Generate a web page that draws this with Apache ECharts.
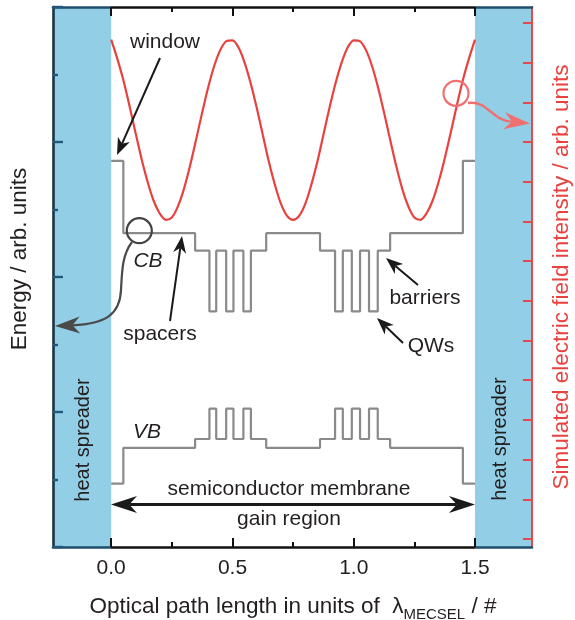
<!DOCTYPE html>
<html>
<head>
<meta charset="utf-8">
<script src="https://cdn.jsdelivr.net/npm/echarts@6/dist/echarts.min.js"></script>
<style>
html,body{margin:0;padding:0;background:#fff;}
#chart{width:575px;height:620px;}
</style>
</head>
<body>
<div id="chart"></div>
<script>
// ---------- data ----------
const xMin = -0.24, xMax = 1.735;
const xMajorTicks = [0, 0.5, 1.0, 1.5];
const xMinorTicks = [0.25, 0.75, 1.25];
const rightTicks = [1, 6, 11, 16, 21, 26, 31, 36, 41, 46, 51, 56, 61, 66];
const heatSpreaders = [[xMin, 0], [1.5, xMax]];

// layer boundaries (optical path length)
const layerEdges = [0, 0.05, 0.346, 0.405, 0.433, 0.474, 0.504, 0.545, 0.576, 0.639,
  0.861, 0.923, 0.955, 0.992, 1.026, 1.063, 1.099, 1.150, 1.45, 1.5];
const layerTypes = ['window', 'spacer', 'barrier', 'qw', 'barrier', 'qw', 'barrier', 'qw', 'barrier',
  'spacer', 'barrier', 'qw', 'barrier', 'qw', 'barrier', 'qw', 'barrier', 'spacer', 'window'];
const cbLevels = { window: 5.72, spacer: 4.65, barrier: 4.39, qw: 3.49 };
const vbLevels = { window: 0.94, spacer: 1.47, barrier: 1.60, qw: 2.05 };

// simulated field intensity (right axis units)
const fieldX = [0, 0.025, 0.05, 0.075, 0.1, 0.125, 0.15, 0.175, 0.2, 0.225, 0.25, 0.275, 0.3, 0.325, 0.35,
  0.375, 0.4, 0.425, 0.45, 0.475, 0.5, 0.525, 0.55, 0.575, 0.6, 0.625, 0.65, 0.675, 0.7, 0.725, 0.75,
  0.775, 0.8, 0.825, 0.85, 0.875, 0.9, 0.925, 0.95, 0.975, 1.0, 1.025, 1.05, 1.075, 1.1, 1.125, 1.15,
  1.175, 1.2, 1.225, 1.25, 1.275, 1.3, 1.325, 1.35, 1.375, 1.4, 1.425, 1.45, 1.475, 1.5];
const fieldY = [63.9, 61.5, 58.8, 55.6, 52.2, 48.9, 46.0, 43.6, 42.0, 41.2, 41.5, 42.9, 45.1, 48.0, 51.3,
  54.7, 57.9, 60.6, 62.6, 63.7, 63.8, 62.9, 61.0, 58.4, 55.3, 51.9, 48.5, 45.6, 43.2, 41.7, 41.2,
  41.7, 43.2, 45.6, 48.5, 51.9, 55.3, 58.4, 61.0, 62.9, 63.8, 63.7, 62.6, 60.6, 57.9, 54.7, 51.3,
  48.0, 45.1, 42.9, 41.5, 41.2, 42.0, 43.6, 46.0, 48.9, 52.2, 55.6, 58.8, 61.5, 63.9];

// ---------- build ----------
function bandLine(levels) {
  const pts = [];
  for (let i = 0; i < layerTypes.length; i++) {
    const v = levels[layerTypes[i]];
    pts.push([layerEdges[i], v]);
    pts.push([layerEdges[i + 1], v]);
  }
  return pts;
}
const fieldData = fieldX.map((x, i) => [x, fieldY[i]]);

const FONT = '"Liberation Sans", Arial, Helvetica, sans-serif';
const TXT = '#231f20';
const BLUE = '#92cfe7';
const RED = '#e8423f';
const TEAL = '#1f4e6b';
const GRID = { left: 53, right: 43, top: 7, bottom: 73 };
const gx0 = GRID.left, gx1 = 575 - GRID.right;

function edgeGrad(dark) {
  const a = (111 - gx0) / (gx1 - gx0), b = (475 - gx0) / (gx1 - gx0);
  return new echarts.graphic.LinearGradient(gx0, 0, gx1, 0, [
    { offset: 0, color: TEAL }, { offset: a, color: TEAL }, { offset: a + 0.0001, color: dark },
    { offset: b, color: dark }, { offset: b + 0.0001, color: TEAL }, { offset: 1, color: TEAL }], true);
}

function xAxisDef(pos, ticks, len, showLine, labels) {
  return {
    type: 'value', min: xMin, max: xMax, position: pos, z: 10,
    axisLine: { show: showLine, onZero: false, lineStyle: { color: edgeGrad('#111'), width: 2.6 } },
    axisTick: { show: true, inside: true, length: len, customValues: ticks, lineStyle: { color: '#111', width: 2 } },
    axisLabel: labels ? { show: true, customValues: ticks, formatter: v => v.toFixed(1), fontSize: 21,
      fontFamily: FONT, color: TXT, margin: 11 } : { show: false },
    splitLine: { show: false }
  };
}

const chart = echarts.init(document.getElementById('chart'), null, { renderer: 'canvas' });

// arrow helpers (annotation graphics, pixel coords)
function arrowHead(tx, ty, fx, fy, len, hw, notch) {
  const dx = tx - fx, dy = ty - fy, d = Math.hypot(dx, dy);
  const ux = dx / d, uy = dy / d, nx = -uy, ny = ux;
  const bx = tx - ux * len, by = ty - uy * len;
  const mx = tx - ux * len * notch, my = ty - uy * len * notch;
  return { pts: [[tx, ty], [bx + nx * hw, by + ny * hw], [mx, my], [bx - nx * hw, by - ny * hw]], mx, my };
}
function straightArrow(x1, y1, x2, y2, color, w, len, hw) {
  const h = arrowHead(x2, y2, x1, y1, len, hw, 0.72);
  return [
    { type: 'line', z: 100, shape: { x1, y1, x2: h.mx, y2: h.my }, style: { stroke: color, lineWidth: w } },
    { type: 'polygon', z: 100, shape: { points: h.pts }, style: { fill: color } }
  ];
}
function txt(s, x, y, size, opts) {
  opts = opts || {};
  return { type: 'text', z: 100, x, y, rotation: opts.rot || 0,
    style: { text: s, font: (opts.italic ? 'italic ' : '') + size + 'px ' + FONT, fill: opts.color || TXT,
      align: 'center', verticalAlign: 'middle', textAlign: 'center', textVerticalAlign: 'middle', rich: opts.rich } };
}
function bez(x1, y1, c1x, c1y, c2x, c2y, x2, y2, color, w) {
  return { type: 'bezierCurve', z: 100,
    shape: { x1, y1, cpx1: c1x, cpy1: c1y, cpx2: c2x, cpy2: c2y, x2, y2 },
    style: { stroke: color, lineWidth: w, fill: null } };
}

const graphics = [];
// labels
graphics.push(txt('window', 165, 42, 21));
graphics.push(txt('CB', 148, 261, 21, { italic: true }));
graphics.push(txt('VB', 147, 432, 21, { italic: true }));
graphics.push(txt('spacers', 160, 334, 21));
graphics.push(txt('barriers', 425, 298, 21));
graphics.push(txt('QWs', 431, 346, 21));
graphics.push(txt('semiconductor membrane', 289, 489, 21));
graphics.push(txt('gain region', 289, 519, 21));
graphics.push(txt('heat spreader', 83, 440, 20, { rot: Math.PI / 2 }));
graphics.push(txt('heat spreader', 500, 439, 20, { rot: Math.PI / 2 }));
graphics.push(txt('Energy / arb. units', 20, 259, 22.5, { rot: Math.PI / 2 }));
graphics.push(txt('Simulated electric field intensity / arb. units', 562, 277, 22.5, { rot: Math.PI / 2, color: RED }));
graphics.push({ type: 'text', z: 100, x: 293, y: 607,
  style: { text: 'Optical path length in units of  {l|λ}{s|MECSEL}{m| / #}', font: '22.5px ' + FONT, fill: TXT,
    align: 'center', verticalAlign: 'middle', textAlign: 'center', textVerticalAlign: 'middle',
    rich: { l: { fontSize: 22.5, fontFamily: FONT, lineHeight: 30, fill: TXT, color: TXT },
            s: { fontSize: 15, fontFamily: FONT, lineHeight: 16, verticalAlign: 'bottom', fill: TXT, color: TXT },
            m: { fontSize: 22.5, fontFamily: FONT, lineHeight: 30, fill: TXT, color: TXT } } } });

// straight arrows
graphics.push(...straightArrow(160, 58, 117, 155, '#1a1a1a', 2, 17, 6.5));
graphics.push(...straightArrow(170, 321, 182, 236, '#1a1a1a', 2, 17, 6.5));
graphics.push(...straightArrow(418, 285, 386, 258, '#1a1a1a', 2, 17, 6.5));
graphics.push(...straightArrow(403, 343, 377, 318, '#1a1a1a', 2, 17, 6.5));
// double arrow (gain region)
{
  const y = 504.5, xa = 111, xb = 475;
  const h1 = arrowHead(xa, y, xb, y, 26, 8.5, 0.7), h2 = arrowHead(xb, y, xa, y, 26, 8.5, 0.7);
  graphics.push({ type: 'line', z: 100, shape: { x1: h1.mx, y1: y, x2: h2.mx, y2: y }, style: { stroke: '#1a1a1a', lineWidth: 3 } });
  graphics.push({ type: 'polygon', z: 100, shape: { points: h1.pts }, style: { fill: '#1a1a1a' } });
  graphics.push({ type: 'polygon', z: 100, shape: { points: h2.pts }, style: { fill: '#1a1a1a' } });
}
// CB circle + curved arrow to left axis
graphics.push({ type: 'circle', z: 100, shape: { cx: 139.3, cy: 230.7, r: 12.5 }, style: { stroke: '#444', lineWidth: 2.2, fill: null } });
{
  const h = arrowHead(55, 326, 82, 325, 25, 8.5, 0.7);
  graphics.push(bez(132, 242, 122, 255, 122, 272, 121, 290, '#4a4a4a', 2.2));
  graphics.push(bez(121, 290, 120, 314, 106, 324, h.mx, h.my, '#4a4a4a', 2.2));
  graphics.push({ type: 'polygon', z: 100, shape: { points: h.pts }, style: { fill: '#4a4a4a' } });
}
// red circle + curved arrow to right axis
graphics.push({ type: 'circle', z: 100, shape: { cx: 456, cy: 93.3, r: 12.5 }, style: { stroke: '#f07070', lineWidth: 2.2, fill: null } });
{
  const h = arrowHead(530, 123.5, 506, 121, 26, 8.5, 0.7);
  graphics.push(bez(468, 103, 488, 100, 492, 121, h.mx, h.my, '#f07070', 2.4));
  graphics.push({ type: 'polygon', z: 100, shape: { points: h.pts }, style: { fill: '#f07070' } });
}

const option = {
  animation: false,
  backgroundColor: '#fff',
  grid: GRID,
  xAxis: [
    xAxisDef('bottom', xMajorTicks, 9, true, true),
    xAxisDef('bottom', xMinorTicks, 5, false, false),
    xAxisDef('top', xMajorTicks, 9, true, false),
    xAxisDef('top', xMinorTicks, 5, false, false)
  ],
  yAxis: [
    { type: 'value', min: 0, max: 8, interval: 2, position: 'left', z: 10,
      axisLine: { show: true, onZero: false, lineStyle: { color: '#1a3345', width: 2.6 } },
      axisTick: { show: true, inside: true, length: 10, lineStyle: { color: '#24587a', width: 2.4 } },
      minorTick: { show: true, splitNumber: 2, length: 5, lineStyle: { color: '#24587a', width: 2.4 } },
      axisLabel: { show: false }, splitLine: { show: false }, minorSplitLine: { show: false } },
    { type: 'value', min: 0, max: 68, position: 'right', z: 10,
      axisLine: { show: true, onZero: false, lineStyle: { color: '#e8474c', width: 2 } },
      axisTick: { show: true, inside: true, length: 9, customValues: rightTicks, lineStyle: { color: '#e8474c', width: 2 } },
      axisLabel: { show: false }, splitLine: { show: false } }
  ],
  series: [
    { type: 'line', name: 'CB', data: bandLine(cbLevels), xAxisIndex: 0, yAxisIndex: 0, showSymbol: false, symbol: 'none',
      lineStyle: { color: '#8a8a8a', width: 2.2 }, z: 3,
      markArea: { silent: true, itemStyle: { color: BLUE, opacity: 1 },
        data: heatSpreaders.map(r => [{ xAxis: r[0] }, { xAxis: r[1] }]) } },
    { type: 'line', name: 'VB', data: bandLine(vbLevels), xAxisIndex: 0, yAxisIndex: 0, showSymbol: false, symbol: 'none',
      lineStyle: { color: '#8a8a8a', width: 2.2 }, z: 3 },
    { type: 'line', name: 'field', data: fieldData, xAxisIndex: 0, yAxisIndex: 1, showSymbol: false, symbol: 'none',
      smooth: 0.3, lineStyle: { color: RED, width: 2.2 }, z: 4 }
  ],
  graphic: { elements: graphics }
};
chart.setOption(option);
</script>
</body>
</html>
